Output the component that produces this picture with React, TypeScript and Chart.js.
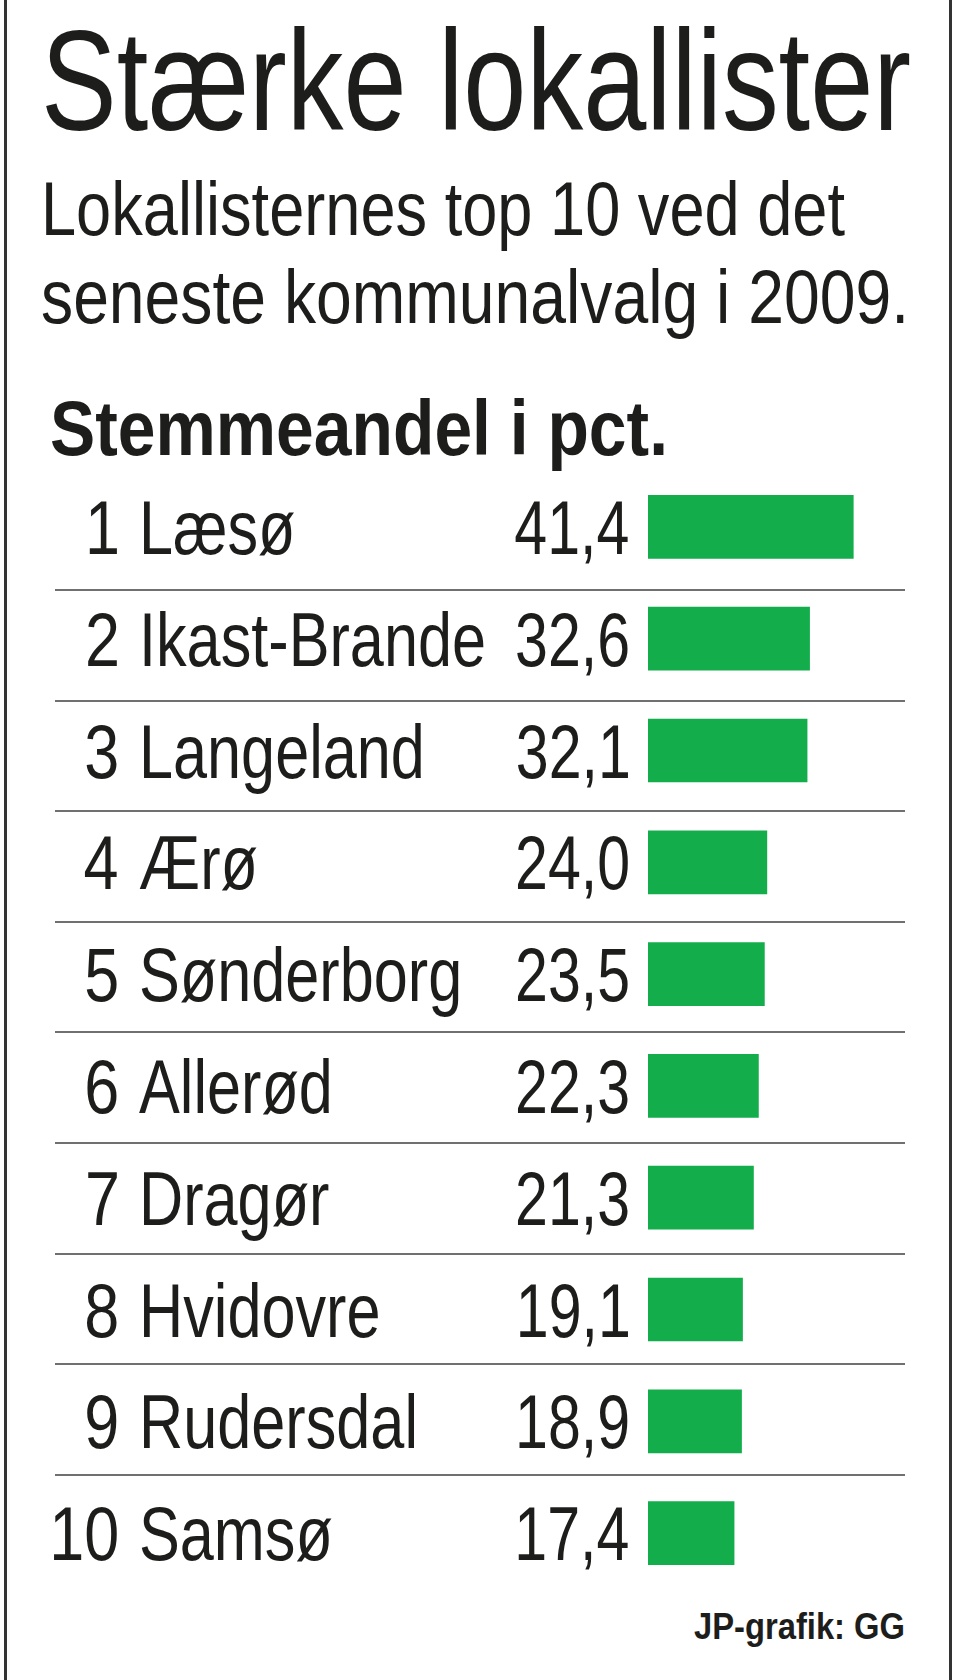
import React, { useEffect, useRef } from "react";
import { Chart, registerables } from "chart.js";

Chart.register(...registerables);

// ---- data ----
const ranks = ["1", "2", "3", "4", "5", "6", "7", "8", "9", "10"];
const municipalities = [
  "Læsø",
  "Ikast-Brande",
  "Langeland",
  "Ærø",
  "Sønderborg",
  "Allerød",
  "Dragør",
  "Hvidovre",
  "Rudersdal",
  "Samsø",
];
const shares = [41.4, 32.6, 32.1, 24.0, 23.5, 22.3, 21.3, 19.1, 18.9, 17.4];

const titleText = "Stærke lokallister";
const subtitleLines = ["Lokallisternes top 10 ved det", "seneste kommunalvalg i 2009."];
const headingText = "Stemmeandel i pct.";
const creditText = "JP-grafik: GG";

// ---- styles ----
const FONT = "'Liberation Sans Narrow', 'Liberation Sans', Arial, sans-serif";
const TEXT = "#1d1d1b";
const GREEN = "#13ad4b";
const RULE = "#707070";

const fmt = (v: number) => v.toFixed(1).replace(".", ",");

function measure(text: string, weight: number, cap: number) {
  const ctx = document.createElement("canvas").getContext("2d")!;
  ctx.font = `${weight} 100px ${FONT}`;
  const h = ctx.measureText("H").actualBoundingBoxAscent || 71.6;
  const size = (cap * 100) / h;
  ctx.font = `${weight} ${size}px ${FONT}`;
  const m = ctx.measureText(text);
  return {
    size,
    width: m.width,
    asc: m.fontBoundingBoxAscent || size * 0.905,
    desc: m.fontBoundingBoxDescent || size * 0.212,
  };
}

function FitText(props: {
  text: string;
  left: number;
  baseline: number;
  width: number;
  cap: number;
  weight?: number;
}) {
  const weight = props.weight ?? 400;
  const m = measure(props.text, weight, props.cap);
  const lh = Math.ceil(m.size * 1.3);
  const top = props.baseline - ((lh - (m.asc + m.desc)) / 2 + m.asc);
  return (
    <div
      style={{
        position: "absolute",
        left: props.left,
        top,
        whiteSpace: "nowrap",
        fontFamily: FONT,
        fontWeight: weight,
        fontSize: m.size,
        lineHeight: `${lh}px`,
        color: TEXT,
        transform: `scaleX(${props.width / m.width})`,
        transformOrigin: "0 0",
      }}
    >
      {props.text}
    </div>
  );
}

const rowPlugin = {
  id: "rowLabels",
  beforeDatasetsDraw(chart: any) {
    const { ctx } = chart;
    const y = chart.scales.y;
    const step = y.getPixelForValue(1) - y.getPixelForValue(0);
    ctx.save();
    ctx.strokeStyle = RULE;
    ctx.lineWidth = 2;
    for (let i = 0; i < municipalities.length - 1; i++) {
      const yy = Math.round(y.getPixelForValue(i) + step * 0.52 + 5 - 1.2 * i);
      ctx.beginPath();
      ctx.moveTo(55, yy);
      ctx.lineTo(905, yy);
      ctx.stroke();
    }
    ctx.restore();
  },
  afterDatasetsDraw(chart: any) {
    const { ctx } = chart;
    const y = chart.scales.y;
    const cap = 53;
    ctx.save();
    ctx.font = `400 100px ${FONT}`;
    const h = ctx.measureText("H").actualBoundingBoxAscent || 71.6;
    const size = (cap * 100) / h;
    ctx.font = `400 ${size}px ${FONT}`;
    ctx.textAlign = "left";
    const sxName = 347 / ctx.measureText("Ikast-Brande").width;
    const sxVal = 115 / ctx.measureText("32,6").width;
    const sxRank = 70 / ctx.measureText("10").width;
    ctx.fillStyle = TEXT;
    ctx.textBaseline = "alphabetic";
    const draw = (t: string, x: number, yy: number, sx: number, inkRight: boolean) => {
      ctx.save();
      ctx.textAlign = "left";
      let ox = x;
      if (inkRight) {
        const m = ctx.measureText(t);
        const right = m.actualBoundingBoxRight ?? m.width;
        ox = x - right * sx;
      }
      ctx.translate(ox, yy);
      ctx.scale(sx, 1);
      ctx.fillText(t, 0, 0);
      ctx.restore();
    };
    municipalities.forEach((name, i) => {
      const base = y.getPixelForValue(i) + cap / 2 + 0.5;
      draw(ranks[i], 117, base, sxRank, true);
      draw(name, 139, base, sxName, false);
      draw(fmt(shares[i]), 628, base, sxVal, true);
    });
    ctx.restore();
  },
};

function BarChart() {
  const ref = useRef<HTMLCanvasElement>(null);
  useEffect(() => {
    const chart = new Chart(ref.current!, {
      type: "bar",
      data: {
        labels: municipalities,
        datasets: [
          {
            data: shares,
            backgroundColor: GREEN,
            borderWidth: 0,
            barPercentage: 0.57,
            categoryPercentage: 1,
          },
        ],
      },
      options: {
        indexAxis: "y",
        responsive: false,
        maintainAspectRatio: false,
        animation: false,
        layout: { padding: { left: 648, right: 14, top: 11, bottom: 11 } },
        scales: {
          x: { display: false, min: 0, max: 60 },
          y: { display: false },
        },
        plugins: {
          legend: { display: false },
          tooltip: { enabled: false },
        },
      },
      plugins: [rowPlugin as any],
    });
    return () => chart.destroy();
  }, []);
  return (
    <canvas
      ref={ref}
      width={960}
      height={1140}
      style={{ position: "absolute", left: 0, top: 460, width: 960, height: 1140 }}
    />
  );
}

export default function App() {
  return (
    <div
      style={{
        position: "absolute",
        left: 0,
        top: 0,
        width: 960,
        height: 1680,
        background: "#ffffff",
        overflow: "hidden",
      }}
    >
      <div style={{ position: "absolute", left: 4, top: 0, width: 3, height: 1680, background: "#333" }} />
      <div style={{ position: "absolute", left: 949, top: 0, width: 3, height: 1680, background: "#333" }} />
      <FitText text={titleText} left={41} baseline={130} width={870} cap={98} />
      <FitText text={subtitleLines[0]} left={41} baseline={235} width={804} cap={53} />
      <FitText text={subtitleLines[1]} left={41} baseline={323} width={868} cap={53} />
      <FitText text={headingText} left={50} baseline={455} width={618} cap={54} weight={700} />
      <BarChart />
      <FitText text={creditText} left={694} baseline={1639} width={211} cap={26} weight={700} />
    </div>
  );
}
